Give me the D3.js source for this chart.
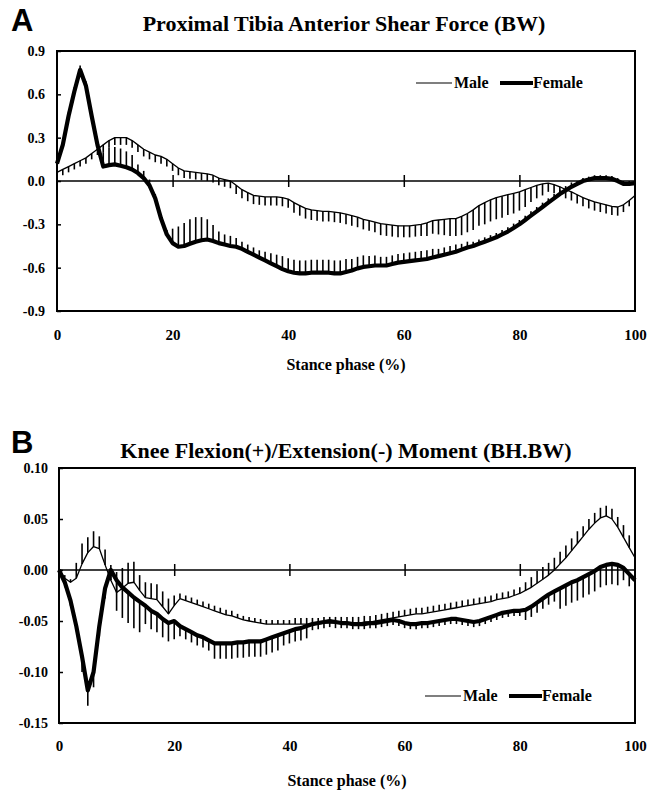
<!DOCTYPE html>
<html lang="en">
<head>
<meta charset="utf-8">
<title>Shear force and knee moment</title>
<script src="https://cdnjs.cloudflare.com/ajax/libs/d3/7.8.5/d3.min.js"></script>
<style>
  body { margin: 0; background: #fff; }
  svg text { font-family: "Liberation Serif", "DejaVu Serif", "Times New Roman", Times, serif; font-weight: bold; fill: #000; }
  svg text.letter { font-family: "Liberation Sans", "DejaVu Sans", Arial, sans-serif; }
</style>
</head>
<body>
<div id="chart"></div>
<script>
// stance phase, 0..100 %
const stance = d3.range(0, 101);

// panel A: proximal tibia anterior shear force (BW)
const maleShear = [0.06,0.08,0.10,0.12,0.14,0.16,0.19,0.22,0.25,0.28,0.30,0.30,0.30,0.28,0.25,0.22,0.20,0.18,0.17,0.15,
  0.12,0.09,0.07,0.065,0.06,0.055,0.05,0.04,0.02,0.01,0.0,-0.03,-0.06,-0.08,-0.10,-0.105,-0.11,-0.11,-0.11,-0.115,
  -0.125,-0.15,-0.17,-0.19,-0.20,-0.205,-0.21,-0.21,-0.215,-0.22,-0.23,-0.24,-0.25,-0.265,-0.275,-0.285,-0.295,-0.30,-0.305,-0.31,
  -0.31,-0.31,-0.305,-0.30,-0.29,-0.275,-0.27,-0.265,-0.26,-0.26,-0.245,-0.225,-0.20,-0.17,-0.15,-0.13,-0.115,-0.105,-0.095,-0.085,
  -0.075,-0.06,-0.045,-0.03,-0.02,-0.015,-0.025,-0.04,-0.06,-0.075,-0.095,-0.115,-0.13,-0.145,-0.155,-0.165,-0.175,-0.18,-0.165,-0.135,-0.10];
const maleShearSd = [0.03,0.04,0.04,0.04,0.04,0.04,0.04,0.04,0.05,0.05,0.05,0.05,0.05,0.05,0.05,0.05,0.05,0.05,0.05,0.05,
  0.05,0.05,0.05,0.05,0.05,0.05,0.05,0.05,0.05,0.05,0.05,0.06,0.06,0.06,0.06,0.06,0.06,0.06,0.06,0.06,
  0.06,0.07,0.07,0.07,0.07,0.07,0.07,0.07,0.07,0.07,0.07,0.07,0.07,0.07,0.07,0.07,0.08,0.08,0.08,0.08,
  0.08,0.08,0.08,0.08,0.09,0.09,0.10,0.11,0.12,0.12,0.13,0.13,0.14,0.14,0.15,0.15,0.15,0.15,0.14,0.14,
  0.13,0.12,0.10,0.09,0.08,0.06,0.06,0.06,0.06,0.06,0.06,0.06,0.06,0.06,0.06,0.06,0.06,0.06,0.05,0.04,0.03];
const femaleShear = [0.12,0.25,0.45,0.62,0.77,0.66,0.45,0.25,0.10,0.11,0.115,0.105,0.095,0.08,0.055,0.02,-0.03,-0.12,-0.26,-0.37,
  -0.43,-0.455,-0.45,-0.435,-0.42,-0.41,-0.405,-0.415,-0.43,-0.44,-0.45,-0.455,-0.47,-0.49,-0.51,-0.53,-0.55,-0.57,-0.59,-0.61,
  -0.625,-0.635,-0.64,-0.64,-0.635,-0.635,-0.635,-0.635,-0.64,-0.64,-0.63,-0.62,-0.605,-0.595,-0.59,-0.585,-0.585,-0.585,-0.575,-0.565,
  -0.56,-0.555,-0.55,-0.545,-0.54,-0.53,-0.52,-0.51,-0.50,-0.49,-0.475,-0.46,-0.45,-0.435,-0.42,-0.405,-0.39,-0.37,-0.35,-0.325,
  -0.30,-0.27,-0.24,-0.21,-0.18,-0.15,-0.12,-0.09,-0.065,-0.04,-0.02,0.0,0.01,0.02,0.02,0.02,0.015,0.0,-0.02,-0.02,-0.015];
const femaleShearSd = [0.02,0.02,0.03,0.03,0.03,0.03,0.02,0.02,0.10,0.12,0.12,0.12,0.11,0.10,0.06,0.05,0.04,0.03,0.03,0.03,
  0.10,0.14,0.16,0.17,0.17,0.16,0.14,0.11,0.08,0.07,0.07,0.06,0.05,0.05,0.05,0.05,0.06,0.07,0.08,0.09,
  0.09,0.09,0.09,0.09,0.09,0.09,0.09,0.09,0.09,0.09,0.09,0.08,0.08,0.08,0.07,0.07,0.06,0.06,0.06,0.06,
  0.06,0.06,0.06,0.06,0.06,0.06,0.05,0.05,0.05,0.05,0.04,0.04,0.03,0.03,0.03,0.03,0.03,0.03,0.03,0.03,
  0.03,0.03,0.03,0.03,0.03,0.03,0.03,0.03,0.03,0.03,0.02,0.02,0.02,0.02,0.02,0.02,0.02,0.02,0.02,0.02,0.02];

// panel B: knee flexion(+)/extension(-) moment (BH.BW)
const maleMoment = [0.0,-0.008,-0.012,-0.008,0.006,0.017,0.023,0.021,0.005,-0.01,-0.022,-0.018,-0.013,-0.012,-0.02,-0.027,-0.028,-0.029,-0.036,-0.043,
  -0.035,-0.028,-0.03,-0.032,-0.034,-0.036,-0.038,-0.04,-0.042,-0.044,-0.045,-0.047,-0.049,-0.05,-0.051,-0.052,-0.053,-0.053,-0.053,-0.053,
  -0.053,-0.053,-0.053,-0.053,-0.053,-0.053,-0.052,-0.052,-0.052,-0.052,-0.052,-0.052,-0.052,-0.051,-0.051,-0.05,-0.049,-0.048,-0.047,-0.046,
  -0.045,-0.044,-0.043,-0.043,-0.042,-0.041,-0.04,-0.039,-0.038,-0.037,-0.036,-0.035,-0.034,-0.033,-0.032,-0.031,-0.029,-0.028,-0.027,-0.025,
  -0.023,-0.02,-0.017,-0.013,-0.009,-0.005,0.0,0.006,0.012,0.019,0.026,0.033,0.04,0.046,0.051,0.053,0.05,0.042,0.032,0.022,0.012];
const maleMomentSd = [0.003,0.003,0.003,0.015,0.02,0.015,0.015,0.012,0.015,0.015,0.02,0.02,0.02,0.02,0.015,0.015,0.015,0.015,0.015,0.015,
  0.01,0.005,0.005,0.005,0.005,0.005,0.005,0.005,0.005,0.005,0.005,0.004,0.004,0.004,0.004,0.004,0.004,0.004,0.004,0.004,
  0.004,0.006,0.006,0.006,0.006,0.006,0.006,0.006,0.006,0.006,0.006,0.006,0.006,0.006,0.006,0.006,0.006,0.006,0.006,0.006,
  0.006,0.006,0.006,0.006,0.006,0.006,0.006,0.006,0.006,0.006,0.006,0.006,0.006,0.006,0.006,0.006,0.006,0.006,0.006,0.006,
  0.006,0.008,0.01,0.012,0.012,0.012,0.012,0.012,0.012,0.012,0.012,0.01,0.01,0.01,0.01,0.01,0.01,0.01,0.012,0.012,0.012];
const femaleMoment = [0.0,-0.012,-0.03,-0.055,-0.085,-0.118,-0.1,-0.055,-0.018,0.0,-0.01,-0.017,-0.022,-0.027,-0.031,-0.035,-0.04,-0.043,-0.048,-0.052,
  -0.05,-0.055,-0.058,-0.061,-0.064,-0.066,-0.069,-0.072,-0.072,-0.072,-0.072,-0.071,-0.071,-0.07,-0.07,-0.07,-0.068,-0.066,-0.064,-0.062,
  -0.06,-0.058,-0.057,-0.055,-0.053,-0.052,-0.051,-0.05,-0.051,-0.052,-0.052,-0.053,-0.053,-0.053,-0.052,-0.052,-0.051,-0.05,-0.049,-0.05,
  -0.052,-0.053,-0.053,-0.052,-0.052,-0.051,-0.05,-0.049,-0.048,-0.048,-0.049,-0.05,-0.051,-0.05,-0.048,-0.046,-0.044,-0.042,-0.041,-0.04,
  -0.04,-0.039,-0.036,-0.032,-0.028,-0.024,-0.021,-0.018,-0.015,-0.012,-0.01,-0.007,-0.004,-0.001,0.003,0.005,0.006,0.005,0.002,-0.004,-0.01];
const femaleMomentSd = [0.005,0.005,0.005,0.005,0.015,0.015,0.015,0.01,0.01,0.01,0.03,0.03,0.03,0.03,0.03,0.018,0.018,0.018,0.018,0.018,
  0.018,0.01,0.01,0.01,0.01,0.01,0.01,0.015,0.015,0.015,0.015,0.015,0.015,0.015,0.015,0.015,0.015,0.015,0.015,0.012,
  0.012,0.012,0.012,0.012,0.006,0.006,0.006,0.006,0.006,0.005,0.005,0.005,0.005,0.005,0.005,0.005,0.005,0.005,0.005,0.005,
  0.005,0.005,0.005,0.005,0.005,0.005,0.005,0.005,0.005,0.005,0.005,0.005,0.005,0.005,0.005,0.005,0.005,0.005,0.005,0.005,
  0.005,0.01,0.01,0.01,0.01,0.01,0.01,0.02,0.02,0.02,0.02,0.02,0.02,0.02,0.02,0.02,0.02,0.02,0.012,0.012,0.012];

const xTicks = [0, 20, 40, 60, 80, 100];
const yTicksA = [-0.9, -0.6, -0.3, 0.0, 0.3, 0.6, 0.9];
const yTicksB = [-0.15, -0.10, -0.05, 0.00, 0.05, 0.10];

const w = 647;
const h = 793;
const serif = "'Liberation Serif', 'DejaVu Serif', 'Times New Roman', serif";

const svg = d3.select("#chart")
  .append("svg")
  .attr("width", w)
  .attr("height", h);

function drawPanel(p) {
  const g = svg.append("g");
  const x = d3.scaleLinear().domain([0, 100]).range([p.left, p.right]);
  const y = d3.scaleLinear().domain(p.yDomain).range([p.bottom, p.top]);

  // letter + title
  g.append("text").attr("class", "letter")
    .attr("x", 11).attr("y", p.letterY)
    .style("font-size", "31px")
    .text(p.letter);
  g.append("text")
    .attr("x", p.titleX).attr("y", p.titleY)
    .attr("text-anchor", "middle")
    .style("font-family", serif)
    .style("font-size", "22px")
    .text(p.title);

  // y axis, ticks pointing inward
  const yAxis = d3.axisLeft(y)
    .tickValues(p.yTicks)
    .tickFormat(d => d.toFixed(p.digits))
    .tickSizeInner(-4)
    .tickSizeOuter(0)
    .tickPadding(p.labelPad);
  const ya = g.append("g")
    .attr("transform", "translate(" + p.left + ",0)")
    .call(yAxis);
  ya.attr("font-family", null);
  ya.select(".domain").remove();
  ya.selectAll("line").attr("stroke", "#000").attr("stroke-width", 1.5);
  ya.selectAll("text")
    .style("font-family", serif)
    .style("font-size", "14px")
    .style("font-weight", "bold");

  // x tick labels below the box
  const xAxis = d3.axisBottom(x).tickValues(xTicks).tickSize(0).tickPadding(p.xPad).tickFormat(d3.format("d"));
  const xa = g.append("g")
    .attr("transform", "translate(0," + p.bottom + ")")
    .call(xAxis);
  xa.attr("font-family", null);
  xa.select(".domain").remove();
  xa.selectAll("text")
    .style("font-family", serif)
    .style("font-size", "15px")
    .style("font-weight", "bold");

  g.append("text")
    .attr("x", (p.left + p.right) / 2).attr("y", p.xLabelY)
    .attr("text-anchor", "middle")
    .style("font-family", serif)
    .style("font-size", "16px")
    .text("Stance phase (%)");

  // zero line with crossing ticks
  g.append("line")
    .attr("x1", x(0)).attr("x2", x(100))
    .attr("y1", y(0)).attr("y2", y(0))
    .attr("stroke", "#000").attr("stroke-width", 1.5);
  const zAxis = d3.axisBottom(x).tickValues([20, 40, 60, 80]).tickSize(12).tickFormat("");
  const za = g.append("g")
    .attr("transform", "translate(0," + (y(0) - 6) + ")")
    .call(zAxis);
  za.select(".domain").remove();
  za.selectAll("line").attr("stroke", "#000").attr("stroke-width", 1.5);

  // error bars (one sided) then mean curves
  const line = d3.line().x((d, i) => x(stance[i])).y(d => y(d));
  p.series.forEach(s => {
    g.append("g").selectAll("line")
      .data(s.mean)
      .enter()
      .append("line")
      .attr("x1", (d, i) => x(stance[i]))
      .attr("x2", (d, i) => x(stance[i]))
      .attr("y1", d => y(d))
      .attr("y2", (d, i) => y(d + s.dir * s.sd[i]))
      .attr("stroke", "#000")
      .attr("stroke-width", 1.6);
  });
  p.series.forEach(s => {
    g.append("path")
      .datum(s.mean)
      .attr("d", line)
      .attr("fill", "none")
      .attr("stroke", "#000")
      .attr("stroke-width", s.width)
      .attr("stroke-linejoin", "round");
  });

  // box
  g.append("rect")
    .attr("x", p.left).attr("y", p.top)
    .attr("width", p.right - p.left).attr("height", p.bottom - p.top)
    .attr("fill", "none").attr("stroke", "#000").attr("stroke-width", 2);

  // legend
  const lg = g.append("g").attr("transform", "translate(" + p.legendX + "," + p.legendY + ")");
  lg.append("line").attr("x1", 0).attr("x2", 36).attr("y1", 0).attr("y2", 0)
    .attr("stroke", "#000").attr("stroke-width", 1.2);
  lg.append("text").attr("x", 38).attr("y", 5)
    .style("font-family", serif).style("font-size", "16px").text("Male");
  lg.append("line").attr("x1", 84).attr("x2", 117).attr("y1", 0).attr("y2", 0)
    .attr("stroke", "#000").attr("stroke-width", 4);
  lg.append("text").attr("x", 117).attr("y", 5)
    .style("font-family", serif).style("font-size", "16px").text("Female");
}

drawPanel({
  letter: "A", letterY: 31,
  title: "Proximal Tibia Anterior Shear Force (BW)", titleX: 344, titleY: 31,
  left: 57, right: 635, top: 51, bottom: 311,
  yDomain: [-0.9, 0.9], yTicks: yTicksA, digits: 1, labelPad: 12,
  xPad: 18, xLabelY: 370,
  legendX: 416, legendY: 83,
  series: [
    { mean: maleShear, sd: maleShearSd, dir: -1, width: 1.3 },
    { mean: femaleShear, sd: femaleShearSd, dir: 1, width: 4.2 }
  ]
});

drawPanel({
  letter: "B", letterY: 453,
  title: "Knee Flexion(+)/Extension(-) Moment (BH.BW)", titleX: 346, titleY: 458,
  left: 59, right: 635, top: 468, bottom: 723,
  yDomain: [-0.15, 0.10], yTicks: yTicksB, digits: 2, labelPad: 11,
  xPad: 17, xLabelY: 786,
  legendX: 425, legendY: 696,
  series: [
    { mean: maleMoment, sd: maleMomentSd, dir: 1, width: 1.3 },
    { mean: femaleMoment, sd: femaleMomentSd, dir: -1, width: 4.2 }
  ]
});
</script>
</body>
</html>
